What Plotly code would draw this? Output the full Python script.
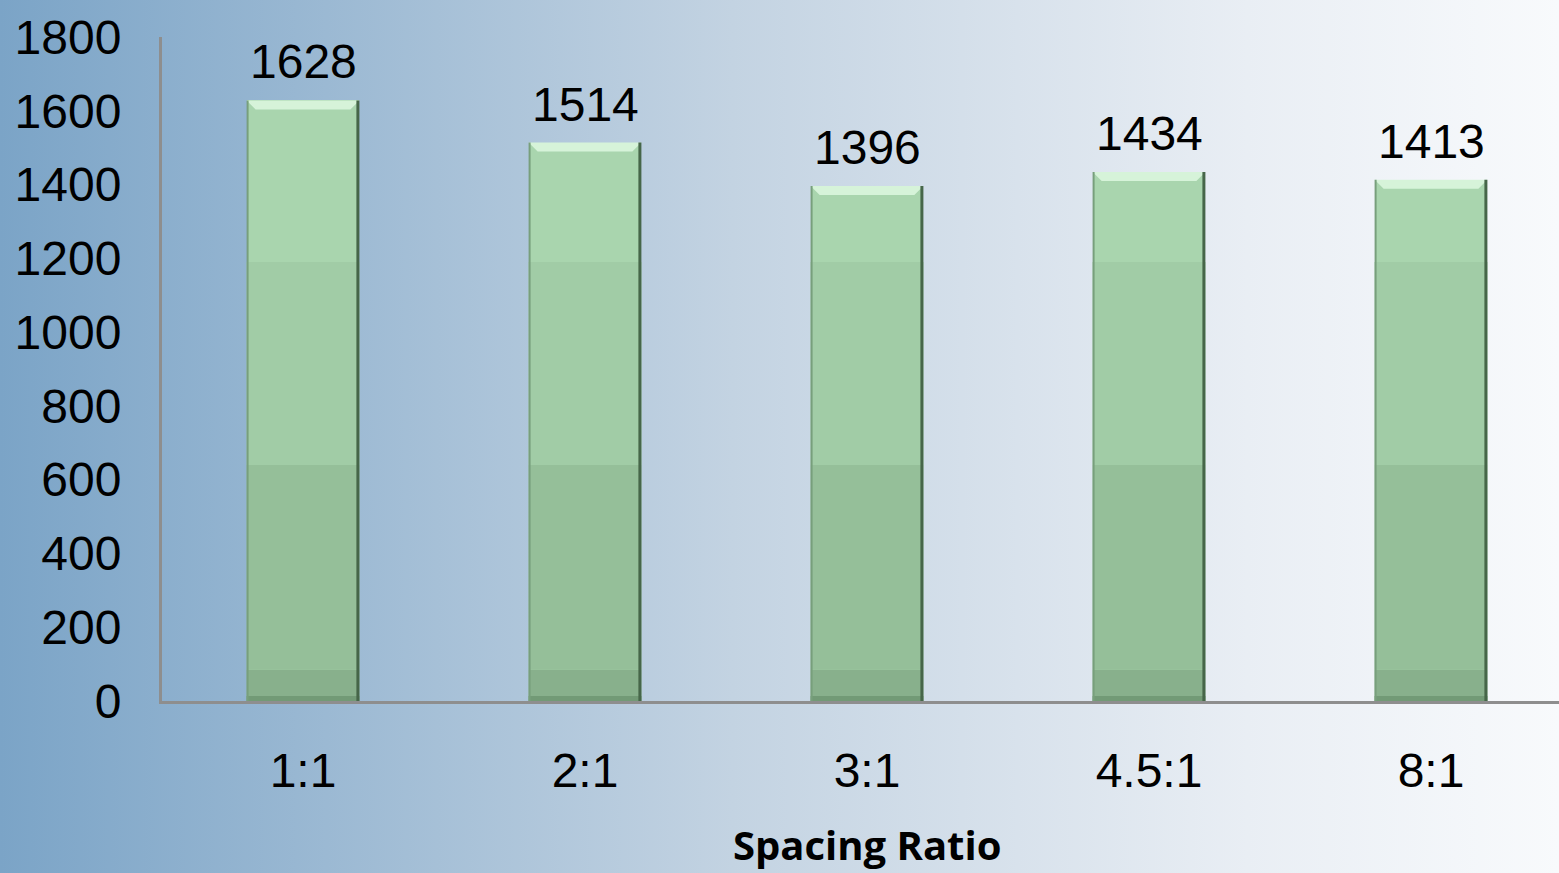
import base64
import plotly.graph_objects as go

# Data
categories = ["1:1", "2:1", "3:1", "4.5:1", "8:1"]
values = [1628, 1514, 1396, 1434, 1413]
y_ticks = [0, 200, 400, 600, 800, 1000, 1200, 1400, 1600, 1800]

W, H = 1559, 873
ML, MR, MT, MB = 162, 0, 37, 172
PW, PH = W - ML - MR, H - MT - MB
CAT_PX = 282.0                      # pixel pitch of one category
X_MIN = -0.5
X_MAX = X_MIN + PW / CAT_PX
Y_MAX = 1800
BAR_W = 0.40
PX_X = 1.0 / CAT_PX                 # one pixel in x data units
PX_Y = Y_MAX / PH                   # one pixel in y data units

FONT = "Liberation Sans, Arial, sans-serif"

# background: horizontal steel-blue to white gradient as an SVG image
svg = (
    '<svg xmlns="http://www.w3.org/2000/svg" width="1559" height="873" preserveAspectRatio="none">'
    '<defs><linearGradient id="g" x1="0" y1="0" x2="1" y2="0">'
    '<stop offset="0" stop-color="#7ba4c7"/>'
    '<stop offset="0.47" stop-color="#c3d3e2"/>'
    '<stop offset="0.8" stop-color="#e9eef4"/>'
    '<stop offset="1" stop-color="#f8fafc"/>'
    '</linearGradient></defs>'
    '<rect width="1559" height="873" fill="url(#g)"/></svg>'
)
bg_src = "data:image/svg+xml;base64," + base64.b64encode(svg.encode()).decode()

xs = list(range(len(categories)))

fig = go.Figure()
fig.add_trace(go.Bar(
    x=xs, y=values, width=BAR_W,
    marker=dict(color="#a9d5ae", line=dict(width=0)),
    hoverinfo="skip",
))

# shading bands and bevel edges, computed from each bar's value
bands = [(0, 85, "#88b08c"), (85, 640, "#95bf99"), (640, 1190, "#a1cca6")]
shapes = []
for x, v in zip(xs, values):
    x0, x1 = x - BAR_W / 2, x + BAR_W / 2
    for lo, hi, col in bands:
        top = min(hi, v)
        if top > lo:
            shapes.append(dict(type="rect", xref="x", yref="y", x0=x0, x1=x1, y0=lo, y1=top,
                               fillcolor=col, line=dict(width=0), layer="above"))
    # bottom bevel
    shapes.append(dict(type="rect", xref="x", yref="y", x0=x0, x1=x1, y0=0, y1=5 * PX_Y,
                       fillcolor="#729a76", line=dict(width=0), layer="above"))
    # top bevel (light trapezoid)
    bev_h = 9 * PX_Y
    inset = 9 * PX_X
    shapes.append(dict(
        type="path", xref="x", yref="y",
        path=f"M {x0},{v} L {x1},{v} L {x1 - inset},{v - bev_h} L {x0 + inset},{v - bev_h} Z",
        fillcolor="#d6f3d9", line=dict(width=0), layer="above"))
    # left edge
    shapes.append(dict(type="rect", xref="x", yref="y", x0=x0, x1=x0 + 2 * PX_X, y0=0, y1=v,
                       fillcolor="#789f7c", line=dict(width=0), layer="above"))
    # right edge shadow
    shapes.append(dict(type="rect", xref="x", yref="y", x0=x1 - 3 * PX_X, x1=x1, y0=0, y1=v,
                       fillcolor="#466649", line=dict(width=0), layer="above"))

# value labels above bars
annotations = [
    dict(x=x, y=v, xref="x", yref="y", text=str(v), showarrow=False,
         yanchor="bottom", yshift=10, font=dict(family=FONT, size=48, color="#000000"))
    for x, v in zip(xs, values)
]
# axis title centred under the category block
annotations.append(dict(
    x=(len(categories) - 1) / 2, y=0, xref="x", yref="paper", text="<b>Spacing Ratio</b>",
    showarrow=False, yanchor="middle", yshift=-143,
    font=dict(family="Open Sans, Lato, sans-serif", size=40, color="#000000")))

fig.update_layout(
    width=W, height=H,
    margin=dict(l=ML, r=MR, t=MT, b=MB),
    paper_bgcolor="#c3d3e2",
    plot_bgcolor="rgba(0,0,0,0)",
    showlegend=False,
    bargap=0,
    shapes=shapes,
    annotations=annotations,
    images=[dict(source=bg_src, xref="paper", yref="paper",
                 x=-ML / PW, y=1 + MT / PH, sizex=W / PW, sizey=H / PH,
                 xanchor="left", yanchor="top", sizing="stretch", layer="below")],
    xaxis=dict(
        range=[X_MIN, X_MAX], tickmode="array", tickvals=xs, ticktext=categories,
        showgrid=False, zeroline=False, showline=True, linecolor="#8e8e8e", linewidth=3,
        ticks="", ticklabelstandoff=25,
        tickfont=dict(family=FONT, size=48, color="#000000"),
    ),
    yaxis=dict(
        range=[0, Y_MAX], tickmode="array", tickvals=y_ticks,
        showgrid=False, zeroline=False, showline=True, linecolor="#8e8e8e", linewidth=3,
        ticks="", ticklabelstandoff=28,
        tickfont=dict(family=FONT, size=48, color="#000000"),
    ),
)

fig.write_html("out.html")
